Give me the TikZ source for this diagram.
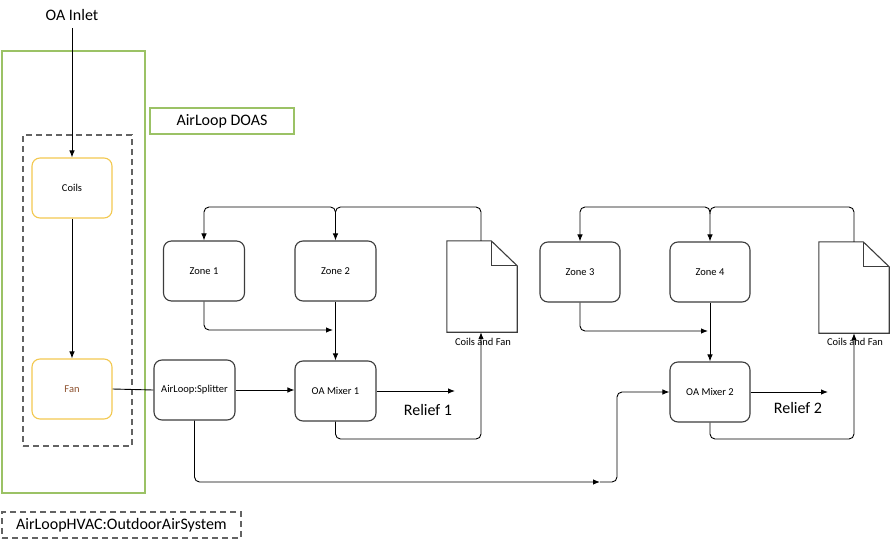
\documentclass[tikz,border=0pt]{standalone}
\usepackage{fontspec}
\setmainfont{Carlito}
\usetikzlibrary{arrows.meta}
\definecolor{dgreen}{RGB}{155,194,101}
\definecolor{cyel}{RGB}{242,200,80}
\definecolor{fanbrown}{RGB}{140,80,45}
\definecolor{boxgray}{RGB}{60,60,60}
\begin{document}
\begin{tikzpicture}[x=1pt,y=-1pt,
  proc/.style={draw=boxgray,line width=1.1pt,rounded corners=8pt,minimum width=81pt,minimum height=60pt,inner sep=0pt,font=\fontsize{10.5}{12}\selectfont},
  ybox/.style={draw=cyel,line width=1.1pt,rounded corners=8pt,minimum width=80pt,minimum height=60pt,inner sep=0pt,font=\fontsize{10.5}{12}\selectfont},
  docshape/.style={draw=none,minimum width=70pt,minimum height=91pt,inner sep=0pt},
  big/.style={font=\fontsize{16}{18}\selectfont,inner sep=0pt},
  small/.style={font=\fontsize{10.5}{12}\selectfont,inner sep=0pt},
  conn/.style={draw=black,line width=0.9pt,rounded corners=5pt},
  arr/.style={-{Latex[length=7pt,width=5.5pt]}}
]
\useasboundingbox (0,0) rectangle (891,543);
% frames
\node[draw=dgreen,line width=1.6pt,minimum width=143pt,minimum height=442pt,inner sep=0pt] (green) at (73.5,272) {};
\node[draw=dgreen,line width=1.6pt,minimum width=144pt,minimum height=26pt,inner sep=0pt,big] (doas) at (222,121) {AirLoop DOAS};
\node[draw=boxgray!80,dash pattern=on 6pt off 4pt,line width=1.1pt,minimum width=109pt,minimum height=311pt,inner sep=0pt] (oas) at (77.5,290.5) {};
\node[draw=boxgray!80,dash pattern=on 6pt off 4pt,line width=1.1pt,minimum width=239pt,minimum height=26pt,inner sep=0pt,big] (oaslabel) at (121.5,525) {AirLoopHVAC:OutdoorAirSystem};
% texts
\node[big] (inlet) at (72,15) {OA Inlet};
\coordinate (inletend) at (72,28);
% boxes
\node[ybox] (coils) at (72,188) {Coils};
\node[ybox,text=fanbrown] (fan) at (72,389) {Fan};
\node[proc] (split) at (194.5,390) {AirLoop:Splitter};
\node[proc] (z1) at (204,271) {Zone 1};
\node[proc] (z2) at (335.5,271) {Zone 2};
\node[proc] (m1) at (335.5,391) {OA Mixer 1};
\node[proc,minimum width=80pt] (z3) at (580,272) {Zone 3};
\node[proc,minimum width=80pt] (z4) at (710,272) {Zone 4};
\node[proc,minimum width=80pt] (m2) at (710,392) {OA Mixer 2};
\node[docshape] (d1) at (482,286.5) {};
\node[docshape] (d2) at (854,287.5) {};
\foreach \d in {d1,d2}{
  \draw[boxgray,line width=1.1pt,line join=miter] (\d.south west) -- (\d.north west) -- ([xshift=-26pt]\d.north east) -- ([yshift=-25pt]\d.north east) -- (\d.south east) -- cycle;
  \draw[boxgray,line width=1.1pt] ([xshift=-26pt]\d.north east) -- ([xshift=-26pt,yshift=-25pt]\d.north east) -- ([yshift=-25pt]\d.north east);
}
\node[small] (d1l) at (483,342) {Coils and Fan};
\node[small] (d2l) at (855,342) {Coils and Fan};
\node[big] (r1) at (428,410) {Relief 1};
\node[big] (r2) at (798,408) {Relief 2};
% connectors
\draw[conn,arr] (inletend) -- (coils.north);
\draw[conn,arr] (coils.south) -- (fan.north);
\draw[conn] (fan.east) -- (split.west);
\draw[conn,arr] (split.east) -- (m1.west |- split.east);
% loop 1
\coordinate (t1) at (481,207);
\draw[conn,arr] ([xshift=-1pt]d1.north) -- (t1) -- (335.5,207) -- (z2.north);
\draw[conn,arr] (335.5,214) -- (335.5,207) -- (204,207) -- (z1.north);
\coordinate (j1) at (333,330);
\draw[conn,arr] (z1.south) |- (j1);
\draw[conn,arr] (z2.south) -- (m1.north);
\coordinate (rel1) at (455,391);
\draw[conn,arr] (m1.east) -- (rel1);
\draw[conn,arr] (m1.south) |- (481,439) -- ([xshift=-1pt]d1.south);
% loop 2
\coordinate (t2) at (854,207);
\draw[conn,arr] (t2 |- d2.north) -- (t2) -- (710,207) -- (z4.north);
\draw[conn,arr] (710,214) -- (710,207) -- (580,207) -- (z3.north);
\coordinate (j2) at (708,331);
\draw[conn,arr] (z3.south) |- (j2);
\draw[conn,arr] (z4.south) -- (m2.north);
\coordinate (rel2) at (828,392);
\draw[conn,arr] (m2.east) -- (rel2);
\draw[conn,arr] (m2.south) |- (854,439) -- (t2 |- d2.south);
% splitter to mixer 2
\coordinate (mid) at (600,482);
\draw[conn,arr] (split.south) |- (mid);
\draw[conn,arr] (mid) -- (617,482) -- (617,392) -- (m2.west);
\end{tikzpicture}
\end{document}
